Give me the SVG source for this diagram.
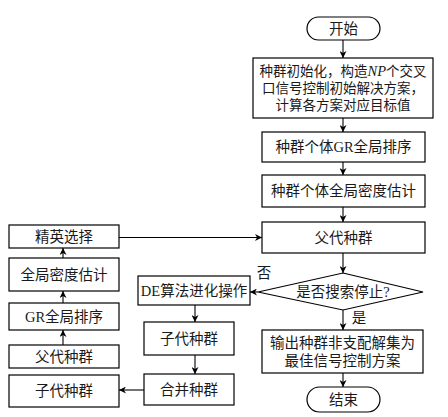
<svg xmlns="http://www.w3.org/2000/svg" width="448" height="417" viewBox="0 0 448 417">
<style>
.b{fill:#fff;stroke:#000;stroke-width:1.2}
.t{font-family:"Liberation Serif","Noto Sans CJK SC",serif;font-size:14.5px;fill:#1a1a1a;text-anchor:middle;dominant-baseline:central}
.s{font-size:13.5px}
.c{fill:none;stroke:#000;stroke-width:1.1;marker-end:url(#a)}
</style>
<defs>
<marker id="a" viewBox="0 0 10 10" refX="10" refY="5" markerWidth="7" markerHeight="7" markerUnits="userSpaceOnUse" orient="auto">
<path d="M0,0 L10,5 L0,10 L3,5 Z" fill="#000"/>
</marker>
</defs>
<rect width="448" height="417" fill="#fff"/>
<g id="start"><rect class="b" x="307" y="17" width="73" height="23" rx="11.5"/><text class="t" x="343.5" y="29">开始</text></g>
<g id="init"><rect class="b" x="253" y="58" width="180" height="60"/>
<text class="t s" x="343" y="71">种群初始化，构造<tspan font-style="italic" font-size="14.5px">NP</tspan>个交叉</text>
<text class="t s" x="343" y="88">口信号控制初始解决方案，</text>
<text class="t s" x="343" y="105">计算各方案对应目标值</text></g>
<g id="grsort"><rect class="b" x="262" y="132" width="163" height="30"/><text class="t" x="343.5" y="147">种群个体GR全局排序</text></g>
<g id="density"><rect class="b" x="262" y="175" width="163" height="32"/><text class="t" x="343.5" y="191">种群个体全局密度估计</text></g>
<g id="parent"><rect class="b" x="262" y="222" width="163" height="31"/><text class="t" x="343.5" y="237.5">父代种群</text></g>
<g id="decision"><polygon class="b" points="343,273 423,292 343,310 258,292"/><text class="t" x="343" y="292">是否搜索停止?</text></g>
<g id="output"><rect class="b" x="262" y="330" width="161" height="43"/>
<text class="t" x="342.5" y="343">输出种群非支配解集为</text>
<text class="t" x="342.5" y="361">最佳信号控制方案</text></g>
<g id="end"><rect class="b" x="307" y="387" width="73" height="25" rx="12.5"/><text class="t" x="343.5" y="399.5">结束</text></g>
<g id="de"><rect class="b" x="138" y="276" width="112" height="29"/><text class="t" x="194" y="290.5" font-size="14px">DE算法进化操作</text></g>
<g id="child"><rect class="b" x="144" y="322" width="90" height="33"/><text class="t" x="189" y="338.5">子代种群</text></g>
<g id="merge"><rect class="b" x="144" y="374" width="90" height="31"/><text class="t" x="189" y="389.5">合并种群</text></g>
<g id="elite"><rect class="b" x="9" y="225" width="110" height="23"/><text class="t" x="64" y="236.5">精英选择</text></g>
<g id="ldensity"><rect class="b" x="9" y="258" width="110" height="33"/><text class="t" x="64" y="274.5">全局密度估计</text></g>
<g id="lgr"><rect class="b" x="9" y="303" width="110" height="27"/><text class="t" x="64" y="316.5">GR全局排序</text></g>
<g id="lparent"><rect class="b" x="9" y="345" width="110" height="23"/><text class="t" x="64" y="356.5">父代种群</text></g>
<g id="lchild"><rect class="b" x="9" y="375" width="110" height="32"/><text class="t" x="64" y="391">子代种群</text></g>
<g id="connectors">
<path class="c" d="M343,40 V58"/>
<path class="c" d="M343,118 V132"/>
<path class="c" d="M343,162 V175"/>
<path class="c" d="M343,207 V222"/>
<path class="c" d="M343,253 V273"/>
<path class="c" d="M343,310 V330"/>
<path class="c" d="M343,373 V387"/>
<path class="c" d="M258,292 H250"/>
<path class="c" d="M195,305 V322"/>
<path class="c" d="M195,355 V374"/>
<path class="c" d="M144,390 H119"/>
<path class="c" d="M63,345 V330"/>
<path class="c" d="M63,303 V291"/>
<path class="c" d="M63,258 V248"/>
<path class="c" d="M119,237.5 H262"/>
<text class="t" x="264" y="273">否</text>
<text class="t" x="359" y="318">是</text>
</g>
</svg>
